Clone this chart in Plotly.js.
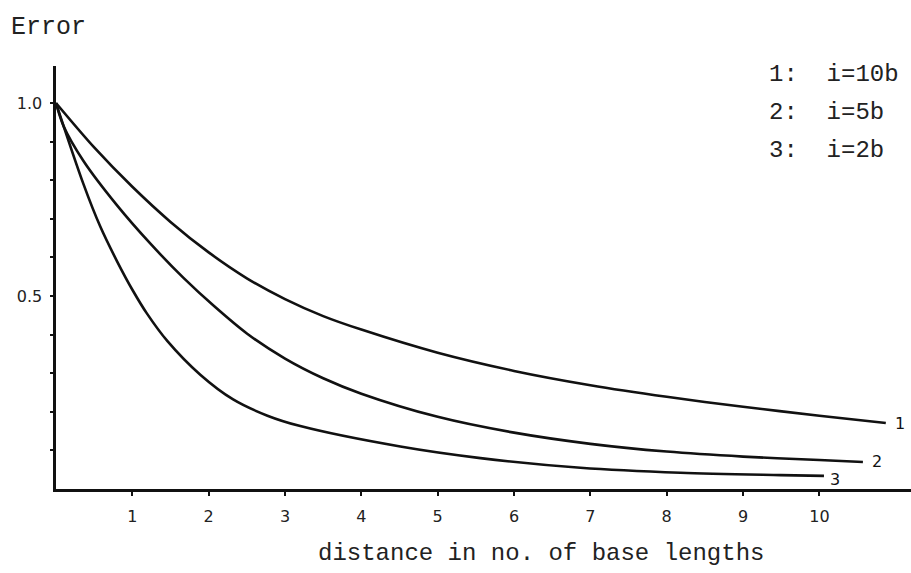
<!DOCTYPE html>
<html><head><meta charset="utf-8">
<script src="https://cdn.plot.ly/plotly-3.0.1.min.js"></script>
<style>html,body{margin:0;padding:0;background:#fff}#chart{width:911px;height:573px}</style>
</head><body><div id="chart"></div>
<script>
// Curve 1: i = 10b
const curve1X = [0, 0.5, 1, 1.5, 2, 2.5, 3, 3.5, 4, 5, 6, 7, 8, 9, 10, 10.87];
const curve1Y = [1.0, 0.885, 0.783, 0.692, 0.613, 0.546, 0.492, 0.448, 0.413, 0.353, 0.306, 0.269, 0.239, 0.213, 0.19, 0.171];
// Curve 2: i = 5b
const curve2X = [0, 0.1, 0.36, 0.8, 1.24, 1.67, 2.07, 2.5, 3, 3.5, 4, 5, 6, 7, 8, 9, 10, 10.57];
const curve2Y = [1.0, 0.94, 0.85, 0.735, 0.635, 0.547, 0.474, 0.403, 0.338, 0.287, 0.247, 0.187, 0.146, 0.117, 0.097, 0.084, 0.075, 0.07];
// Curve 3: i = 2b
const curve3X = [0, 0.36, 0.58, 0.8, 1.01, 1.19, 1.46, 1.89, 2.32, 2.77, 3.2, 4.51, 5.56, 6.87, 8.18, 9.49, 10.06];
const curve3Y = [1.0, 0.79, 0.68, 0.59, 0.513, 0.455, 0.383, 0.296, 0.232, 0.19, 0.163, 0.11, 0.08, 0.055, 0.042, 0.036, 0.034];

const curveLabels = ['1', '2', '3'];
const legendLines = ['1:\u00a0\u00a0i=10b', '2:\u00a0\u00a0i=5b', '3:\u00a0\u00a0i=2b'];
const xTickVals = [1, 2, 3, 4, 5, 6, 7, 8, 9, 10];
const xTickText = ['1', '2', '3', '4', '5', '6', '7', '8', '9', '10'];
const yTickVals = [0.1, 0.2, 0.3, 0.4, 0.5, 0.6, 0.7, 0.8, 0.9, 1.0];
const yTickText = ['', '', '', '', '0.5', '', '', '', '', '1.0'];
const yTitle = 'Error';
const xTitle = 'distance in no. of base lengths';

const lineStyle = {color: '#111', width: 2.6, shape: 'spline', smoothing: 0.9};
const series = [[curve1X, curve1Y], [curve2X, curve2Y], [curve3X, curve3Y]];
const traces = series.map(([x, y]) => ({
  x: x, y: y, type: 'scatter', mode: 'lines', line: lineStyle,
  hoverinfo: 'skip', showlegend: false
}));

const mono = 'Liberation Mono, Courier New, monospace';
const sans = 'DejaVu Sans, Liberation Sans, sans-serif';

const annotations = [];
series.forEach(([x, y], i) => {
  annotations.push({
    x: x[x.length - 1], y: y[y.length - 1], xref: 'x', yref: 'y',
    text: curveLabels[i], showarrow: false, xanchor: 'left', yanchor: 'middle',
    xshift: i === 2 ? 4 : 7, yshift: i === 2 ? -4 : 0,
    font: {family: sans, size: 16, color: '#111'}
  });
});
const legendY = [0.981, 0.889, 0.801];
legendLines.forEach((t, i) => {
  annotations.push({
    x: 0.831, y: legendY[i], xref: 'paper', yref: 'paper', text: t,
    showarrow: false, xanchor: 'left', yanchor: 'middle',
    font: {family: mono, size: 24, color: '#222'}
  });
});
annotations.push({
  x: 0.567, y: -0.152, xref: 'paper', yref: 'paper', text: xTitle,
  showarrow: false, xanchor: 'center', yanchor: 'middle',
  font: {family: mono, size: 24, color: '#222'}
});

const layout = {
  width: 911, height: 573,
  margin: {l: 56, r: 0, t: 66, b: 84},
  paper_bgcolor: '#fff', plot_bgcolor: '#fff',
  title: {text: yTitle, x: 0.012, xanchor: 'left', xref: 'container', y: 0.956, yanchor: 'middle',
          font: {family: mono, size: 25, color: '#222'}},
  xaxis: {
    range: [0, 11.2], showgrid: false, zeroline: false,
    showline: true, linecolor: '#111', linewidth: 2.6,
    ticks: 'outside', ticklen: 4, tickwidth: 2, tickcolor: '#111',
    tickvals: xTickVals, ticktext: xTickText, ticklabelstandoff: 7,
    tickfont: {family: sans, size: 16, color: '#222'}
  },
  yaxis: {
    range: [0, 1.096], showgrid: false, zeroline: false,
    showline: true, linecolor: '#111', linewidth: 2.6,
    ticks: 'outside', ticklen: 3, tickwidth: 2, tickcolor: '#111',
    tickvals: yTickVals, ticktext: yTickText, ticklabelstandoff: 5,
    tickfont: {family: sans, size: 16, color: '#222'}
  },
  annotations: annotations
};

Plotly.newPlot('chart', traces, layout, {staticPlot: true, displayModeBar: false});
</script>
</body></html>
